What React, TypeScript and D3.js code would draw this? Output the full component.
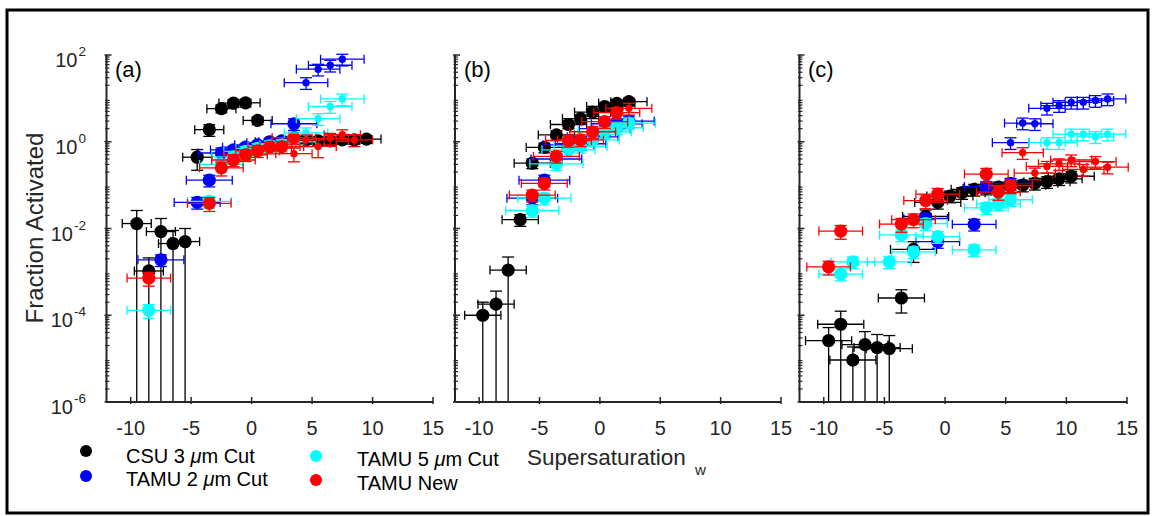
import React from 'react';
import * as d3 from 'd3';

// [supersaturation, fraction activated, x error, relative y error (>=1 means down to axis)]
type Pt = [number, number, number, number];

const panelLabels = ['(a)', '(b)', '(c)'];
const xTicks = [-10, -5, 0, 5, 10, 15];
const yTicks = [1e2, 1e0, 1e-2, 1e-4, 1e-6];
const yTickExponents = ['2', '0', '-2', '-4', '-6'];
const legendNames = ['CSU 3 ', 'TAMU 2 ', 'TAMU 5 ', 'TAMU New'];

// ---------- Panel (a) ----------
const csuA: Pt[] = [
  [-9.5, 0.013, 1.2, 1.0], [-8.5, 0.00105, 1.2, 1.0], [-7.5, 0.0085, 1.2, 1.0],
  [-6.5, 0.0045, 1.2, 1.0], [-5.5, 0.005, 1.2, 1.0], [-4.5, 0.44, 1.2, 0.5],
  [-3.5, 1.9, 1.2, 0.3], [-2.5, 5.8, 1.2, 0.2], [-1.5, 7.8, 1.2, 0.2],
  [-0.5, 7.9, 1.2, 0.2], [0.5, 3.1, 1.2, 0.2], [1.5, 1.0, 1.2, 0.2],
  [2.5, 1.05, 1.2, 0.2], [3.5, 1.1, 1.2, 0.2], [4.5, 1.1, 1.2, 0.2],
  [5.5, 1.05, 1.2, 0.2], [6.5, 1.05, 1.2, 0.2], [7.5, 1.1, 1.2, 0.2],
  [8.5, 1.1, 1.2, 0.2], [9.5, 1.15, 1.2, 0.2],
];
const tamu2A: Pt[] = [
  [-7.5, 0.0019, 1.9, 0.3], [-4.5, 0.04, 1.9, 0.3], [-3.5, 0.13, 1.9, 0.3],
  [-2.5, 0.55, 1.9, 0.3], [-1.5, 0.65, 1.9, 0.2], [-0.5, 0.75, 1.9, 0.2],
  [0.5, 0.85, 1.9, 0.2], [1.5, 0.95, 1.9, 0.2], [2.5, 1.0, 1.9, 0.2],
  [3.5, 2.6, 1.9, 0.3],
];
const tamu2SmallA: Pt[] = [
  [4.5, 23, 1.8, 0.3], [5.5, 47, 1.8, 0.3], [6.5, 58, 1.8, 0.3], [7.5, 80, 1.8, 0.3],
];
const tamu5A: Pt[] = [
  [-8.5, 0.00013, 1.8, 0.35], [-3.5, 0.042, 1.8, 0.3], [-2.5, 0.3, 1.8, 0.3],
  [-1.5, 0.45, 1.8, 0.3], [-0.5, 0.6, 1.8, 0.3], [0.5, 0.7, 1.8, 0.3],
  [1.5, 0.8, 1.8, 0.3], [2.5, 0.85, 1.8, 0.3], [3.5, 1.0, 1.8, 0.3],
];
const tamu5SmallA: Pt[] = [
  [4.5, 1.6, 1.8, 0.3], [5.5, 3.4, 1.8, 0.3], [6.5, 6.5, 1.8, 0.3], [7.5, 9.7, 1.8, 0.3],
];
const newA: Pt[] = [
  [-8.5, 0.00072, 1.8, 0.35], [-3.5, 0.038, 1.8, 0.35], [-2.5, 0.25, 1.8, 0.35],
  [-1.5, 0.38, 1.8, 0.3], [-0.5, 0.5, 1.8, 0.3], [0.5, 0.62, 1.8, 0.3],
  [1.5, 0.75, 1.8, 0.3], [2.5, 0.77, 1.8, 0.3], [3.5, 1.25, 1.8, 0.3],
];
const newSmallA: Pt[] = [
  [3.5, 0.53, 1.5, 0.35], [4.5, 1.1, 1.5, 0.3], [5.5, 0.78, 1.5, 0.45],
  [6.5, 1.2, 1.5, 0.3], [7.5, 1.45, 1.5, 0.3], [8.5, 1.1, 1.5, 0.3],
];

// ---------- Panel (b) ----------
const csuB: Pt[] = [
  [-9.7, 1.0e-4, 1.5, 1.0], [-8.6, 1.8e-4, 1.5, 1.0], [-7.6, 1.1e-3, 1.5, 1.0],
  [-6.6, 0.016, 1.5, 0.3], [-5.6, 0.32, 1.5, 0.25], [-4.6, 0.74, 1.5, 0.25],
  [-3.6, 1.44, 1.5, 0.25], [-2.6, 2.5, 1.5, 0.2], [-1.6, 3.4, 1.5, 0.2],
  [-0.6, 4.8, 1.5, 0.2], [0.4, 6.5, 1.5, 0.2], [1.4, 7.7, 1.5, 0.2],
  [2.4, 8.4, 1.5, 0.2],
];
const tamu2B: Pt[] = [
  [-5.6, 0.05, 2.1, 0.3], [-4.6, 0.13, 2.1, 0.3], [-3.6, 0.4, 2.1, 0.3],
  [-2.6, 0.85, 2.1, 0.3], [-1.6, 0.9, 2.1, 0.3], [-0.6, 1.3, 2.1, 0.3],
  [0.4, 2.0, 2.1, 0.3], [1.4, 2.6, 2.1, 0.3], [2.4, 3.0, 2.1, 0.3],
];
const tamu5B: Pt[] = [
  [-5.6, 0.026, 2.2, 0.3], [-4.6, 0.05, 2.2, 0.3], [-3.6, 0.31, 2.2, 0.3],
  [-2.6, 0.65, 2.2, 0.3], [-1.6, 0.78, 2.2, 0.3], [-0.6, 1.1, 2.2, 0.3],
  [0.4, 1.7, 2.2, 0.3], [1.4, 2.1, 2.2, 0.3], [2.4, 2.7, 2.2, 0.3],
];
const newB: Pt[] = [
  [-5.6, 0.059, 1.9, 0.3], [-4.6, 0.11, 1.9, 0.3], [-3.6, 0.46, 1.9, 0.3],
  [-2.6, 1.07, 1.9, 0.3], [-1.6, 1.1, 1.9, 0.3], [-0.6, 1.7, 1.9, 0.3],
  [0.4, 2.9, 1.9, 0.3], [1.4, 4.7, 1.9, 0.3],
];
const newSmallB: Pt[] = [[2.4, 5.9, 1.9, 0.3]];

// ---------- Panel (c) ----------
const csuC: Pt[] = [
  [-9.6, 2.6e-5, 1.9, 1.0], [-8.6, 6.2e-5, 1.9, 1.0], [-7.6, 9.3e-6, 1.9, 1.0],
  [-6.6, 2.1e-5, 1.9, 1.0], [-5.6, 1.8e-5, 1.9, 1.0], [-4.6, 1.7e-5, 1.9, 1.0],
  [-3.6, 2.5e-4, 1.9, 0.55], [-2.6, 0.0033, 1.9, 0.5], [-1.6, 0.019, 1.9, 0.4],
  [-0.6, 0.04, 1.9, 0.3], [0.4, 0.056, 1.9, 0.3], [1.4, 0.067, 1.9, 0.3],
  [2.4, 0.08, 1.9, 0.3], [3.4, 0.085, 1.9, 0.3], [4.4, 0.09, 1.9, 0.3],
  [5.4, 0.095, 1.9, 0.3], [6.4, 0.1, 1.9, 0.3], [7.4, 0.11, 1.9, 0.3],
  [8.4, 0.12, 1.9, 0.3], [9.4, 0.14, 1.9, 0.3], [10.4, 0.16, 1.9, 0.3],
];
const tamu2C: Pt[] = [
  [-1.6, 0.017, 1.8, 0.3], [-0.6, 0.005, 1.8, 0.3], [2.4, 0.0125, 1.8, 0.3],
  [3.4, 0.093, 1.8, 0.3], [5.4, 0.11, 1.8, 0.3],
];
const tamu2SmallC: Pt[] = [
  [5.4, 0.95, 1.5, 0.3], [6.4, 2.7, 1.5, 0.3], [7.4, 2.6, 1.5, 0.3],
  [8.4, 5.9, 1.5, 0.3], [9.4, 6.8, 1.5, 0.3], [10.4, 8.1, 1.5, 0.3],
  [11.4, 8.1, 1.5, 0.3], [12.4, 8.9, 1.5, 0.3], [13.4, 9.7, 1.5, 0.3],
];
const tamu5C: Pt[] = [
  [-8.6, 8.9e-4, 1.8, 0.3], [-7.6, 0.0017, 1.8, 0.3], [-4.6, 0.0017, 1.8, 0.3],
  [-3.6, 0.0071, 1.8, 0.3], [-2.6, 0.0029, 1.8, 0.3], [-1.6, 0.013, 1.8, 0.3],
  [-0.6, 0.0065, 1.8, 0.3], [2.4, 0.0032, 1.8, 0.3], [3.4, 0.03, 1.8, 0.3],
  [4.4, 0.037, 1.8, 0.3], [5.4, 0.046, 1.8, 0.3],
];
const tamu5SmallC: Pt[] = [
  [8.4, 0.95, 1.5, 0.3], [9.4, 0.95, 1.5, 0.3], [10.4, 1.5, 1.5, 0.3],
  [11.4, 1.5, 1.5, 0.3], [12.4, 1.3, 1.5, 0.3], [13.4, 1.5, 1.5, 0.3],
];
const newC: Pt[] = [
  [-9.6, 0.0013, 1.8, 0.35], [-8.6, 0.0087, 1.8, 0.35], [-3.6, 0.0126, 1.8, 0.35],
  [-2.6, 0.016, 1.8, 0.35], [-1.6, 0.044, 1.8, 0.35], [-0.6, 0.062, 1.8, 0.35],
  [3.4, 0.18, 1.8, 0.35], [4.4, 0.069, 1.8, 0.35], [5.4, 0.098, 1.8, 0.35],
];
const newSmallC: Pt[] = [
  [6.4, 0.56, 1.7, 0.3], [7.4, 0.19, 1.7, 0.3], [8.4, 0.27, 1.7, 0.3],
  [9.4, 0.31, 1.7, 0.3], [10.4, 0.38, 1.7, 0.3], [11.4, 0.23, 1.7, 0.3],
  [12.4, 0.35, 1.7, 0.3], [13.4, 0.26, 1.7, 0.3],
];

// ---------- styles / layout ----------
const COLORS = ['#000000', '#0000ff', '#00ffff', '#ff0000'];
const BIG = 6.6;
const SMALL = 3.7;
const AXIS = '#262626';
const FONT = 'Liberation Sans, Arial, Helvetica, sans-serif';

const Y_TOP = 55;
const Y_BOT = 402;

type Layer = { data: Pt[]; color: string; r: number };
const panels: { range: [number, number]; labelX: number; layers: Layer[] }[] = [
  {
    range: [106.5, 433], labelX: 115,
    layers: [
      { data: csuA, color: COLORS[0], r: BIG },
      { data: tamu2A, color: COLORS[1], r: BIG },
      { data: tamu5A, color: COLORS[2], r: BIG },
      { data: newA, color: COLORS[3], r: BIG },
      { data: tamu2SmallA, color: COLORS[1], r: SMALL },
      { data: tamu5SmallA, color: COLORS[2], r: SMALL },
      { data: newSmallA, color: COLORS[3], r: SMALL },
    ],
  },
  {
    range: [455, 781], labelX: 464,
    layers: [
      { data: csuB, color: COLORS[0], r: BIG },
      { data: tamu2B, color: COLORS[1], r: BIG },
      { data: tamu5B, color: COLORS[2], r: BIG },
      { data: newB, color: COLORS[3], r: BIG },
      { data: newSmallB, color: COLORS[3], r: SMALL },
    ],
  },
  {
    range: [799.5, 1127], labelX: 808,
    layers: [
      { data: csuC, color: COLORS[0], r: BIG },
      { data: tamu2C, color: COLORS[1], r: BIG },
      { data: tamu5C, color: COLORS[2], r: BIG },
      { data: newC, color: COLORS[3], r: BIG },
      { data: tamu2SmallC, color: COLORS[1], r: SMALL },
      { data: tamu5SmallC, color: COLORS[2], r: SMALL },
      { data: newSmallC, color: COLORS[3], r: SMALL },
    ],
  },
];

const yScale = d3.scaleLog().domain([1e-6, 1e2]).range([Y_BOT, Y_TOP]);

const minorTicks: number[] = [];
for (let k = -6; k < 2; k++) for (let m = 2; m <= 9; m++) minorTicks.push(m * Math.pow(10, k));

function Layer({ layer, x }: { layer: Layer; x: d3.ScaleLinear<number, number> }) {
  const { data, color, r } = layer;
  const capH = 4.5;
  const capV = 6;
  return (
    <g>
      {data.map(([sx, f, xe, rel], i) => {
        const cx = x(sx);
        const cy = yScale(f);
        const x0 = x(sx - xe);
        const x1 = x(sx + xe);
        const yHi = yScale(f * (1 + rel));
        const clipped = rel >= 1;
        const yLo = clipped ? Y_BOT : yScale(f * (1 - rel));
        return (
          <g key={i} stroke={color} strokeWidth={1.3} fill="none">
            <line x1={x0} x2={x1} y1={cy} y2={cy} />
            <line x1={x0} x2={x0} y1={cy - capH} y2={cy + capH} />
            <line x1={x1} x2={x1} y1={cy - capH} y2={cy + capH} />
            <line x1={cx} x2={cx} y1={yLo} y2={yHi} />
            <line x1={cx - capV} x2={cx + capV} y1={yHi} y2={yHi} />
            {!clipped && <line x1={cx - capV} x2={cx + capV} y1={yLo} y2={yLo} />}
          </g>
        );
      })}
      {data.map(([sx, f], i) => (
        <circle key={'m' + i} cx={x(sx)} cy={yScale(f)} r={r} fill={color} stroke="none" />
      ))}
    </g>
  );
}

export default function App() {
  const legendPos = [
    { mx: 86, my: 451, tx: 126, ty: 463 },
    { mx: 86, my: 476, tx: 126, ty: 486 },
    { mx: 316, my: 456, tx: 357, ty: 466 },
    { mx: 316, my: 480, tx: 357, ty: 490 },
  ];
  return (
    <svg
      width={1152}
      height={516}
      style={{ position: 'absolute', left: 0, top: 0, background: '#fff' }}
      fontFamily={FONT}
    >
      <rect x={0} y={0} width={1152} height={516} fill="#fff" />
      <rect x={7} y={10} width={1141} height={503} fill="none" stroke="#000" strokeWidth={3} />

      {panels.map((p, pi) => {
        const x = d3.scaleLinear().domain([-12, 15]).range(p.range);
        const left = p.range[0];
        return (
          <g key={pi}>
            {p.layers.map((l, li) => (
              <Layer key={li} layer={l} x={x} />
            ))}
            {/* axes */}
            <g stroke={AXIS} fill="none">
              <line x1={left} x2={left} y1={Y_TOP} y2={Y_BOT} strokeWidth={2} />
              <line x1={left} x2={p.range[1]} y1={Y_BOT} y2={Y_BOT} strokeWidth={2} />
              {minorTicks.map((t, i) => (
                <line key={'mt' + i} x1={left - 1.5} x2={left + 3} y1={yScale(t)} y2={yScale(t)} strokeWidth={1.2} />
              ))}
              {yTicks.map((t, i) => (
                <line key={'yt' + i} x1={left - 2} x2={left + 5} y1={yScale(t)} y2={yScale(t)} strokeWidth={1.5} />
              ))}
              {xTicks.map((t, i) => (
                <line key={'xt' + i} x1={x(t)} x2={x(t)} y1={Y_BOT + 2} y2={Y_BOT - 5} strokeWidth={1.5} />
              ))}
            </g>
            {xTicks.map((t, i) => (
              <text key={'xl' + i} x={x(t)} y={435} textAnchor="middle" fontSize={20} fill={AXIS}>
                {t}
              </text>
            ))}
            <text x={p.labelX} y={77} fontSize={22} fill="#000">
              {panelLabels[pi]}
            </text>
          </g>
        );
      })}

      {/* y tick labels on panel (a) */}
      {yTicks.map((t, i) => (
        <text key={'yl' + i} x={86} y={yScale(t) + 12} textAnchor="end" fontSize={20} fill={AXIS}>
          10
          <tspan dx={1} dy={-11} fontSize={13.5} textAnchor="start">
            {yTickExponents[i]}
          </tspan>
        </text>
      ))}

      <text
        transform="translate(43,228) rotate(-90)"
        textAnchor="middle"
        fontSize={24}
        fill={AXIS}
      >
        Fraction Activated
      </text>

      <text x={527} y={465} fontSize={22.5} fill={AXIS}>
        Supersaturation
      </text>
      <text x={695} y={475} fontSize={15} fill={AXIS}>
        w
      </text>

      {legendPos.map((lp, i) => (
        <g key={'lg' + i}>
          <circle cx={lp.mx} cy={lp.my} r={6} fill={COLORS[i]} />
          <text x={lp.tx} y={lp.ty} fontSize={20} fill="#000">
            {legendNames[i]}
            {i < 3 && (
              <>
                <tspan fontStyle="italic">μ</tspan>
                <tspan>m Cut</tspan>
              </>
            )}
          </text>
        </g>
      ))}
    </svg>
  );
}
